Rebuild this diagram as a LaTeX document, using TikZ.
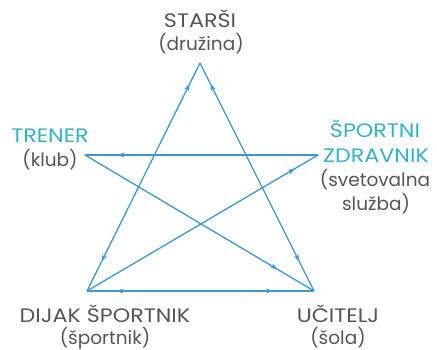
\documentclass[tikz,border=0pt]{standalone}
\usepackage{fontspec}
\setmainfont{Poppins}
\newfontfamily\capsfont[FakeStretch=1.14]{Poppins}
\usetikzlibrary{arrows.meta,decorations.markings}
\definecolor{linec}{HTML}{3A98D5}
\definecolor{tealc}{HTML}{35B3C4}
\definecolor{grayc}{HTML}{555555}
\tikzset{
  lbl/.style={anchor=base,inner sep=0pt,font=\fontsize{18.5}{23}\selectfont,text=grayc},
  caplbl/.style={lbl,font=\capsfont\fontsize{19.5}{23}\selectfont},
  hl/.style={caplbl,text=tealc},
  conn/.style={draw=linec,line width=1.3pt},
  arrstart/.style={postaction={decorate,decoration={markings,
     mark=at position #1 with {\arrow{Stealth[length=7pt,width=5pt,reversed]}}}}},
  arrend/.style={postaction={decorate,decoration={markings,
     mark=at position #1 with {\arrow{Stealth[length=7pt,width=5pt]}}}}},
}
\begin{document}
\begin{tikzpicture}[x=1pt,y=-1pt]
\useasboundingbox (0,0) rectangle (437,350);
\coordinate (T) at (200,63);
\coordinate (L) at (85,155);
\coordinate (R) at (318,155);
\coordinate (BL) at (87,291);
\coordinate (BR) at (314,291);
% connectors
\path[conn,arrstart=0.12,arrend=0.87] (T) -- (BL);
\path[conn,arrstart=0.12,arrend=0.87] (T) -- (BR);
\path[conn,arrend=0.86] (R) -- (L);
\path[conn,arrend=0.84] (L) -- (BR);
\path[conn,arrend=0.9] (BL) -- (R);
\path[conn,arrstart=0.16,arrend=0.82] (BL) -- (BR);
% labels
\node[caplbl] (starsi) at (200,28) {STARŠI};
\node[lbl] (druzina) at (201,51) {(družina)};
\node[hl] (trener) at (50,143) {TRENER};
\node[lbl] (klub) at (50,167) {(klub)};
\node[hl] (sportni) at (375,138) {ŠPORTNI};
\node[hl] (zdravnik) at (376,163) {ZDRAVNIK};
\node[lbl] (svet) at (375,187) {(svetovalna};
\node[lbl] (sluzba) at (376,211) {služba)};
\node[caplbl] (dijak) at (105,322) {DIJAK ŠPORTNIK};
\node[lbl] (sportnik) at (105,344) {(športnik)};
\node[caplbl] (ucitelj) at (338,322) {UČITELJ};
\node[lbl] (sola) at (338,344) {(šola)};
\end{tikzpicture}
\end{document}
